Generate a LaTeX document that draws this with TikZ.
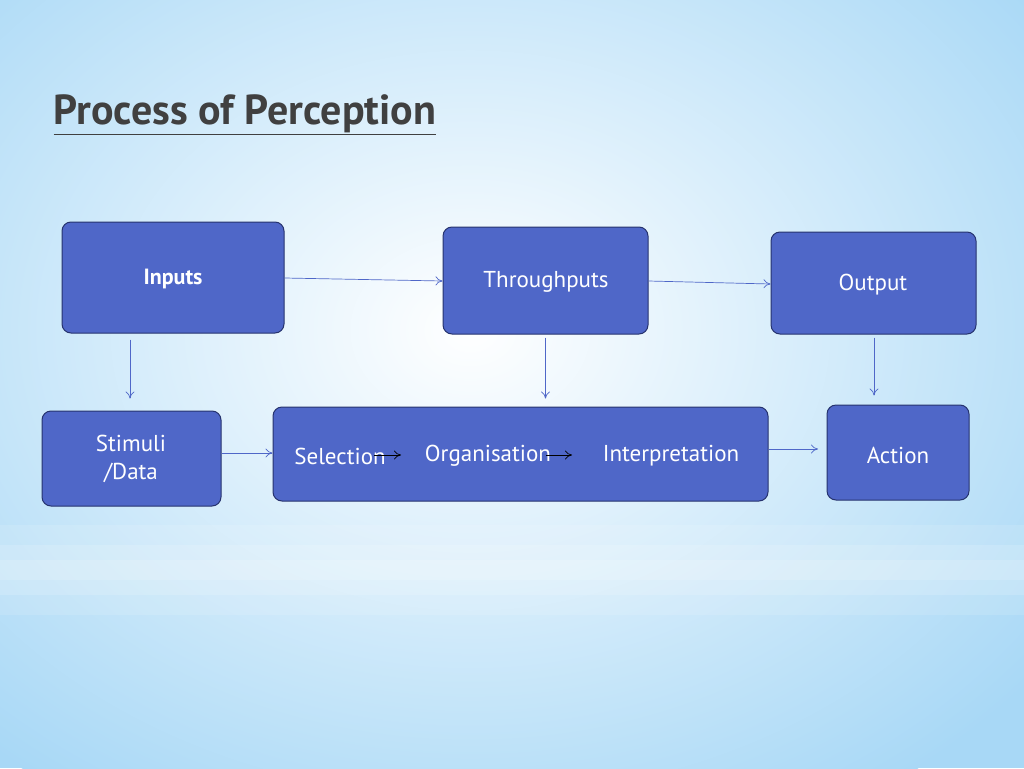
\documentclass[tikz,border=0pt]{standalone}
\usepackage{fontspec}
\setmainfont{PT Sans}
\usetikzlibrary{arrows.meta}
\definecolor{boxfill}{HTML}{4F67C8}
\definecolor{boxline}{HTML}{26336E}
\definecolor{bgblue}{HTML}{A8D8F6}
\definecolor{titlec}{HTML}{404040}
\colorlet{bandc}{white!60!bgblue}
\begin{document}
\begin{tikzpicture}[x=1pt,y=-1pt,
  box/.style={draw=boxline,line width=1pt,fill=boxfill,rounded corners=9pt,inner sep=0pt},
  lab/.style={text=white,font=\fontsize{23}{28}\selectfont,align=center},
  conn/.style={draw=boxfill,line width=0.7pt,-{To[length=7pt,width=9pt]}},
  inner/.style={draw=black,line width=0.7pt,-{To[length=7pt,width=9pt]}}]
\useasboundingbox (0,0) rectangle (1024,768);
\fill[bgblue] (0,0) rectangle (1024,768);
\shade[inner color=white,outer color=bgblue] (470,330) ellipse (720 and 560);
\shade[top color=bgblue!0!white,bottom color=bandc,opacity=0.0] (0,520) rectangle (1024,570);
\fill[white,opacity=0.12] (0,525) rectangle (1024,615);
\fill[white,opacity=0.15] (0,545) rectangle (1024,595);
\fill[white,opacity=0.15] (0,560) rectangle (1024,580);
\node[anchor=base west,text=titlec,font=\fontsize{42}{48}\selectfont\bfseries] (title) at (50,124) {\underline{Process of Perception}};
\node[box,minimum width=222,minimum height=111] (inp) at (173,277.5) {};
\node[lab,font=\fontsize{22}{26}\selectfont\bfseries] (inpt) at (173,279) {Inputs};
\node[box,minimum width=205,minimum height=107] (thr) at (545.5,280.5) {};
\node[lab] (thrt) at (546,282) {Throughputs};
\node[box,minimum width=205,minimum height=102] (out) at (873.5,283) {};
\node[lab] (outt) at (873,285) {Output};
\node[box,minimum width=179,minimum height=95] (sti) at (131.5,458.5) {};
\node[lab] (stit) at (131,459) {Stimuli\\/Data};
\node[box,minimum width=495,minimum height=94] (mid) at (520.5,454) {};
\node[box,minimum width=142,minimum height=95] (act) at (898,452.5) {};
\node[lab] (actt) at (898,455) {Action};
\node[lab] (sel) at (340,456) {Selection};
\node[lab] (org) at (488,456) {Organisation};
\node[lab] (itp) at (671,456) {Interpretation};
\draw[conn] (inp.east |- 0,278) -- (thr.west |- 0,281);
\draw[conn] (thr.east |- 0,281) -- (out.west |- 0,284);
\draw[conn,shorten <=6pt,shorten >=12pt] (inp.south -| 130,0) -- (sti.north -| 130,0);
\draw[conn,shorten <=3pt,shorten >=8pt] (thr.south) -- (mid.north -| thr.south);
\draw[conn,shorten <=3pt,shorten >=9pt] (out.south -| 874,0) -- (act.north -| 874,0);
\draw[conn] (sti.east |- 0,453) -- (mid.west |- 0,453);
\coordinate (actin) at (818,449);
\draw[conn] (mid.east |- 0,449) -- (actin);
\coordinate (a1) at (374,455); \coordinate (a2) at (401,455);
\coordinate (b1) at (546,455); \coordinate (b2) at (572,455);
\draw[inner] (a1) -- (a2);
\draw[inner] (b1) -- (b2);
\end{tikzpicture}
\end{document}
